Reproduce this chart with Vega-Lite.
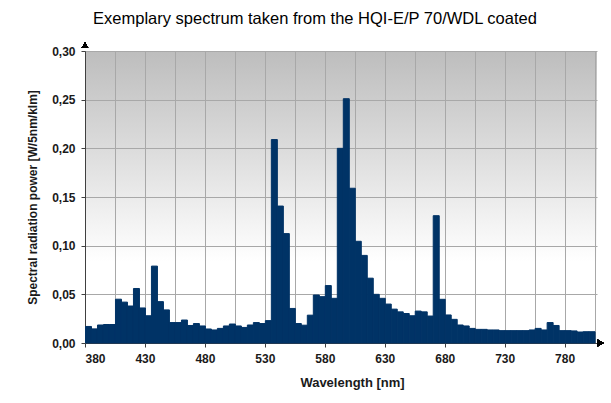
{
  "$schema": "https://vega.github.io/schema/vega-lite/v6.json",
  "autosize": "none",
  "width": 512,
  "height": 292,
  "padding": {"left": 85, "top": 51, "right": 14, "bottom": 60},
  "background": "white",
  "title": {
    "text": "Exemplary spectrum taken from the HQI-E/P 70/WDL coated",
    "font": "Liberation Sans",
    "fontSize": 16.5,
    "fontWeight": "normal",
    "color": "#000000",
    "anchor": "middle",
    "frame": "bounds",
    "offset": 15
  },
  "config": {
    "view": {
      "stroke": null,
      "fill": {
        "gradient": "linear",
        "x1": 0, "y1": 0, "x2": 0, "y2": 1,
        "stops": [
          {"offset": 0, "color": "#bdbdbd"},
          {"offset": 0.72, "color": "#ffffff"},
          {"offset": 1, "color": "#ffffff"}
        ]
      }
    },
    "axis": {
      "labelFont": "Liberation Sans",
      "labelFontSize": 12,
      "labelFontWeight": "bold",
      "labelColor": "#1a1a1a",
      "titleFont": "Liberation Sans",
      "titleFontSize": 12,
      "titleFontWeight": "bold",
      "titleColor": "#1a1a1a",
      "domainColor": "#404040",
      "tickColor": "#404040",
      "gridColor": "#a8a8a8",
      "gridOpacity": 1,
      "gridWidth": 1,
      "tickSize": 4
    }
  },
  "data": {
    "values": [
      {"wl": 380, "p": 0.017}, {"wl": 385, "p": 0.0145}, {"wl": 390, "p": 0.0185}, {"wl": 395, "p": 0.019},
      {"wl": 400, "p": 0.019}, {"wl": 405, "p": 0.045}, {"wl": 410, "p": 0.042}, {"wl": 415, "p": 0.038},
      {"wl": 420, "p": 0.056}, {"wl": 425, "p": 0.036}, {"wl": 430, "p": 0.028}, {"wl": 435, "p": 0.079},
      {"wl": 440, "p": 0.0425}, {"wl": 445, "p": 0.034}, {"wl": 450, "p": 0.021}, {"wl": 455, "p": 0.021},
      {"wl": 460, "p": 0.0236}, {"wl": 465, "p": 0.018}, {"wl": 470, "p": 0.02}, {"wl": 475, "p": 0.0175},
      {"wl": 480, "p": 0.0144}, {"wl": 485, "p": 0.0134}, {"wl": 490, "p": 0.015}, {"wl": 495, "p": 0.0175},
      {"wl": 500, "p": 0.0195}, {"wl": 505, "p": 0.0175}, {"wl": 510, "p": 0.016}, {"wl": 515, "p": 0.0185},
      {"wl": 520, "p": 0.021}, {"wl": 525, "p": 0.02}, {"wl": 530, "p": 0.023}, {"wl": 535, "p": 0.209},
      {"wl": 540, "p": 0.1407}, {"wl": 545, "p": 0.1124}, {"wl": 550, "p": 0.0355}, {"wl": 555, "p": 0.02},
      {"wl": 560, "p": 0.0183}, {"wl": 565, "p": 0.0286}, {"wl": 570, "p": 0.0493}, {"wl": 575, "p": 0.0476},
      {"wl": 580, "p": 0.059}, {"wl": 585, "p": 0.0459}, {"wl": 590, "p": 0.2}, {"wl": 595, "p": 0.251},
      {"wl": 600, "p": 0.159}, {"wl": 605, "p": 0.1045}, {"wl": 610, "p": 0.09}, {"wl": 615, "p": 0.0666},
      {"wl": 620, "p": 0.05}, {"wl": 625, "p": 0.0459}, {"wl": 630, "p": 0.04}, {"wl": 635, "p": 0.0348},
      {"wl": 640, "p": 0.032}, {"wl": 645, "p": 0.0303}, {"wl": 650, "p": 0.028}, {"wl": 655, "p": 0.0328},
      {"wl": 660, "p": 0.032}, {"wl": 665, "p": 0.0277}, {"wl": 670, "p": 0.1308}, {"wl": 675, "p": 0.0449},
      {"wl": 680, "p": 0.0288}, {"wl": 685, "p": 0.0243}, {"wl": 690, "p": 0.0185}, {"wl": 695, "p": 0.0175},
      {"wl": 700, "p": 0.015}, {"wl": 705, "p": 0.014}, {"wl": 710, "p": 0.014}, {"wl": 715, "p": 0.0134},
      {"wl": 720, "p": 0.0134}, {"wl": 725, "p": 0.0127}, {"wl": 730, "p": 0.0127}, {"wl": 735, "p": 0.0127},
      {"wl": 740, "p": 0.0127}, {"wl": 745, "p": 0.0127}, {"wl": 750, "p": 0.0134}, {"wl": 755, "p": 0.015},
      {"wl": 760, "p": 0.0134}, {"wl": 765, "p": 0.021}, {"wl": 770, "p": 0.018}, {"wl": 775, "p": 0.0127},
      {"wl": 780, "p": 0.0127}, {"wl": 785, "p": 0.0124}, {"wl": 790, "p": 0.0113}, {"wl": 795, "p": 0.0116},
      {"wl": 800, "p": 0.0116}
    ]
  },
  "layer": [
    {
      "mark": {"type": "bar", "color": "#003366", "stroke": "#003366", "strokeWidth": 1, "binSpacing": 0},
      "encoding": {
        "x": {
          "field": "wl",
          "type": "quantitative",
          "bin": {"binned": true, "step": 5},
          "scale": {"domain": [380, 807], "nice": false, "zero": false},
          "axis": {
            "title": "Wavelength [nm]",
            "titleFontSize": 13,
            "titleX": 267,
            "values": [380, 405, 430, 455, 480, 505, 530, 555, 580, 605, 630, 655, 680, 705, 730, 755, 780, 805],
            "labelExpr": "(datum.value - 380) % 50 === 0 ? datum.value : ''",
            "tickOpacity": {"condition": {"test": "(datum.value - 380) % 50 === 0", "value": 1}, "value": 0},
            "labelPadding": 6,
            "titlePadding": 12,
            "grid": true
          }
        },
        "y": {
          "field": "p",
          "type": "quantitative",
          "scale": {"domain": [0, 0.3], "nice": false},
          "axis": {
            "title": "Spectral radiation power [W/5nm/klm]",
            "values": [0, 0.05, 0.1, 0.15, 0.2, 0.25, 0.3],
            "labelExpr": "replace(format(datum.value, '.2f'), '.', ',')",
            "labelPadding": 6,
            "titlePadding": 12,
            "grid": true
          }
        }
      }
    },
    {
      "mark": {"type": "point", "shape": "triangle-up", "filled": true, "color": "#000000", "size": 40, "opacity": 1},
      "encoding": {
        "x": {"datum": 380},
        "y": {"datum": 0.306}
      }
    },
    {
      "mark": {"type": "point", "shape": "triangle-right", "filled": true, "color": "#000000", "size": 40, "opacity": 1},
      "encoding": {
        "x": {"datum": 810},
        "y": {"datum": 0}
      }
    }
  ]
}
